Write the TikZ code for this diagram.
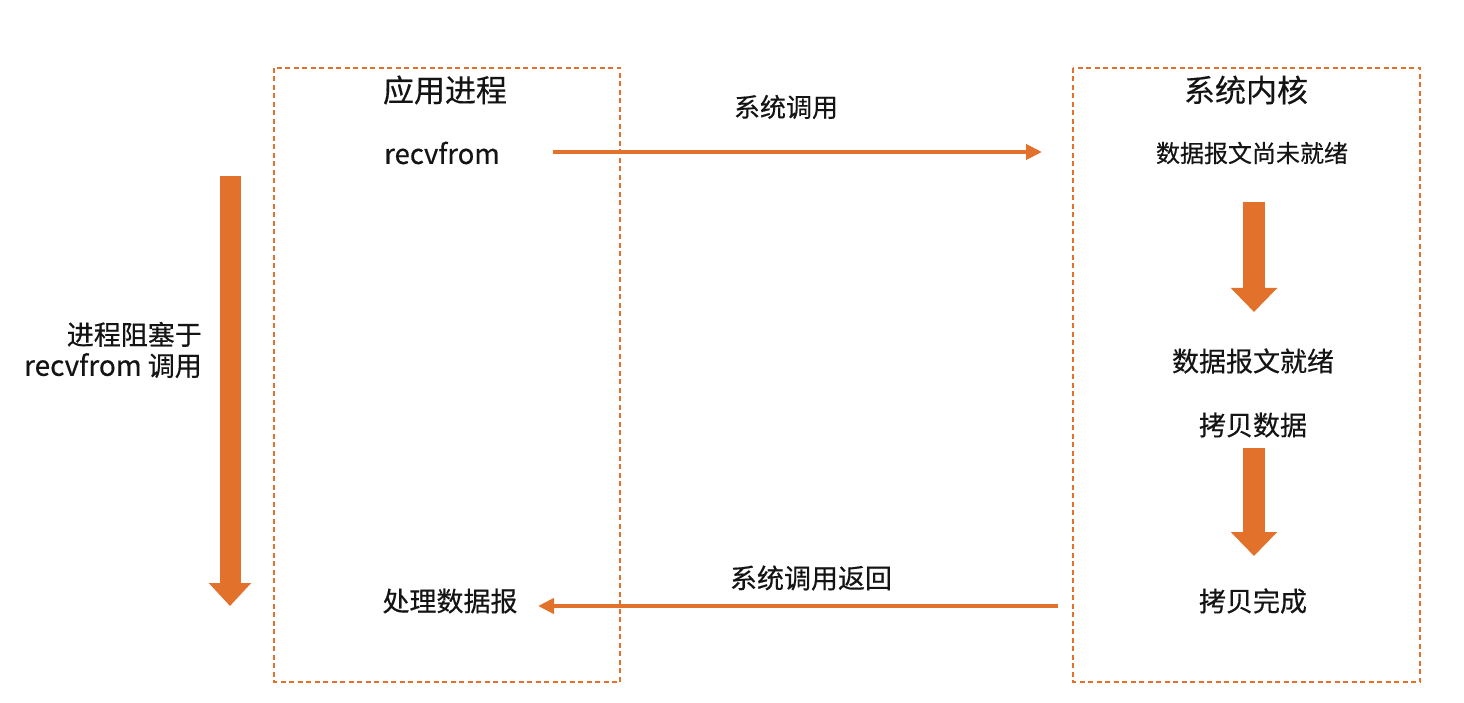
\documentclass[tikz,border=0pt]{standalone}
\usepackage{fontspec}
\setmainfont{Noto Sans CJK SC}[FakeBold=0.4]
\usetikzlibrary{arrows.meta}
\definecolor{flow}{RGB}{226,113,44}
\definecolor{ink}{RGB}{20,20,20}
\begin{document}
\begin{tikzpicture}[x=1pt,y=-1pt,
  panel/.style={draw=flow,line width=1.4pt,dash pattern=on 5pt off 3.5pt},
  lbl/.style={text=ink,inner sep=0pt,font=\fontsize{#1}{#1}\selectfont},
  lbl/.default=27,
  callarrow/.style={draw=flow,line width=4.5pt,-{Triangle[length=16pt,width=15pt]}},
  blockarrow/.style={draw=flow,line width=22pt,-{Triangle[length=#1,width=45pt]}},
  blockarrow/.default=24pt]
\useasboundingbox[fill=white] (0,0) rectangle (1464,703);

% the two process panels
\draw[panel] (274,68) rectangle (620,682);
\draw[panel] (1073,68) rectangle (1420,682);

% application side
\node[lbl=31] (app) at (445,90) {应用进程};
\node[lbl=27.5] (recv) at (442,153) {recvfrom};
\node[lbl=27] (proc) at (450,601) {处理数据报};

% kernel side
\node[lbl=31] (kern) at (1246,90) {系统内核};
\node[lbl=24] (notready) at (1252,153) {数据报文尚未就绪};
\node[lbl=27] (ready) at (1253,361) {数据报文就绪};
\node[lbl=27] (copy) at (1253,425) {拷贝数据};
\node[lbl=27] (done) at (1253,601) {拷贝完成};

% call labels
\node[lbl=26] (callL) at (786,107) {系统调用};
\node[lbl=27] (retL) at (811,578) {系统调用返回};

% blocking note
\node[lbl=27,anchor=east,align=right] (block) at (202,350)
  {进程阻塞于\\[4pt]{\fontsize{28}{28}\selectfont recvfrom} 调用};

% horizontal call / return arrows
\coordinate (callS) at (553,152);
\coordinate (callE) at (1042,152);
\coordinate (retS) at (1058,606);
\coordinate (retE) at (538,606);
\draw[callarrow] (callS) -- (callE);
\draw[callarrow] (retS) -- (retE);

% kernel progress arrows
\coordinate (k1s) at (1254,202);
\coordinate (k1e) at (1254,312);
\coordinate (k2s) at (1254,448);
\coordinate (k2e) at (1254,556);
\draw[blockarrow] (k1s) -- (k1e);
\draw[blockarrow] (k2s) -- (k2e);

% blocked time arrow
\coordinate (ts) at (230,176);
\coordinate (te) at (230,606);
\draw[draw=flow,line width=21pt,-{Triangle[length=23pt,width=41pt]}] (ts) -- (te);
\end{tikzpicture}
\end{document}
